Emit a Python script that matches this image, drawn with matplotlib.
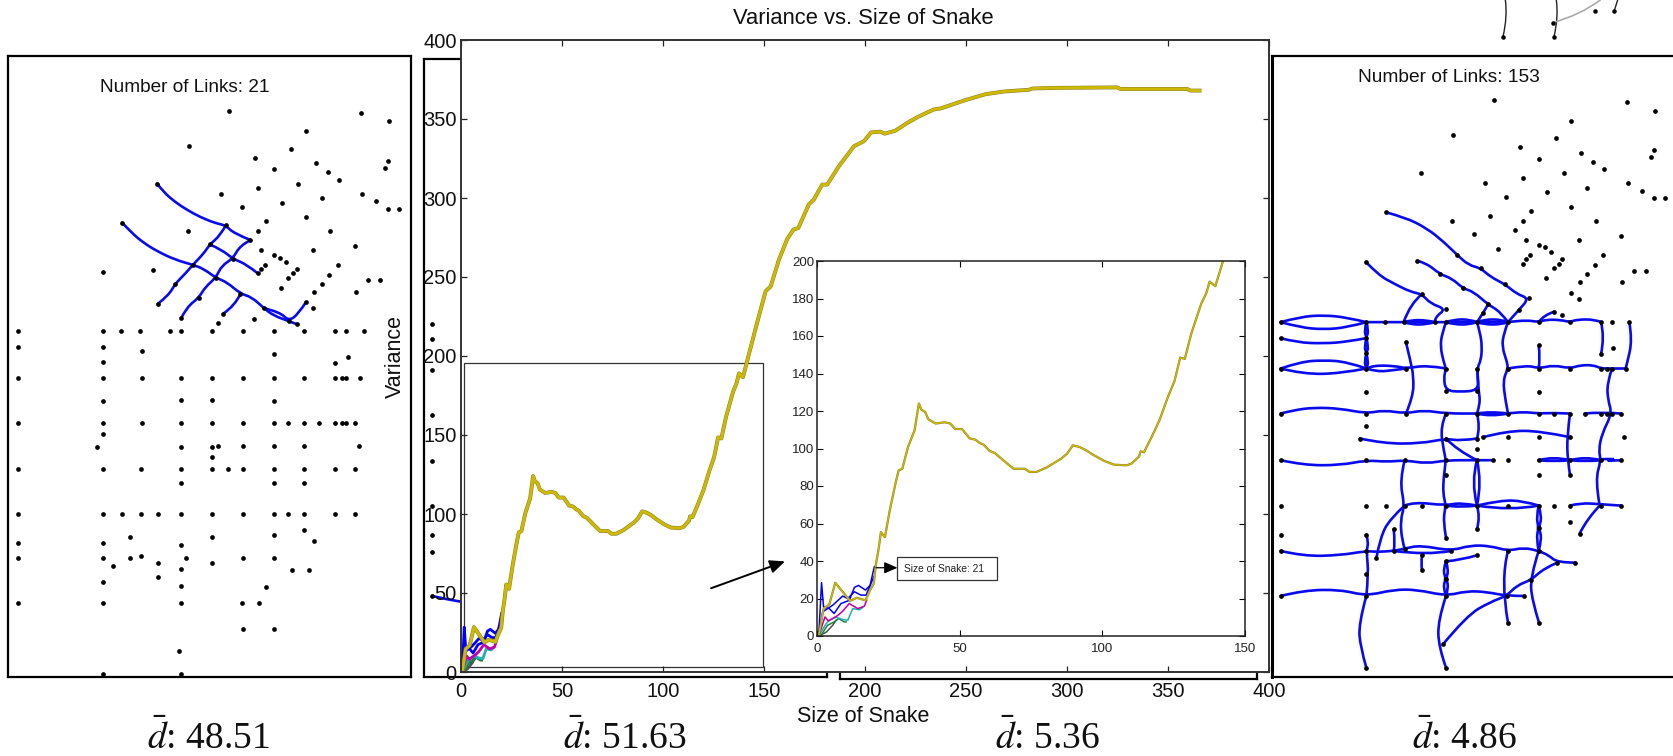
import numpy as np
import matplotlib
matplotlib.use("Agg")
import matplotlib.pyplot as plt
from matplotlib.patches import PathPatch, Rectangle
from matplotlib.path import Path

W, H = 1673, 756
plt.rcParams["font.family"] = ["Liberation Sans", "DejaVu Sans"]
plt.rcParams["mathtext.fontset"] = "stix"

# %%
# curves, x = size of snake, y = variance
main_x = [0.6, 2.3, 4.3, 6.4, 9, 11.6, 13.9, 17, 18.6, 19.9, 20.7, 21.6, 22.4, 23.8, 25.5, 27.6, 28.6, 29.9,
          31.9, 34.2, 35.7, 36.6, 37.9, 39, 41.6, 44.7, 46.7, 48.4, 50.8, 53.5, 55.5, 57, 58.4, 60.5, 62.3,
          66.4, 68.9, 72.8, 74.5, 76.9, 80.4, 85.6, 87.6, 89.7, 92, 94.4, 96.7, 100.8, 104, 108.4, 110.2,
          112.9, 113.4, 114.6, 117.4, 120, 123, 125.3, 127.3, 128.9, 131.2, 134.7, 136.4, 137.6, 139.6,
          140.8, 142.3, 147.5, 150.8, 153.3, 157.4, 161.5, 164.5, 167, 172.2, 174.7, 178.8, 181.3, 187,
          194.5, 199.5, 203, 207.7, 209.8, 215, 220.8, 226.6, 234, 237.5, 249.8, 259.7, 268.8, 281.2, 282.8,
          295.2, 324.9, 326.5, 359.5, 361, 365.6]
main_y = [0, 14.6, 16.8, 28.4, 23.6, 18.75, 20.4, 19, 24.5, 28, 38.7, 46.5, 55.4, 52.7, 67, 82, 88.3, 89.2,
          100.8, 109.7, 124, 120.7, 119.5, 115.6, 113.3, 114, 113.3, 110.4, 110.4, 105.4, 104.7, 103, 102,
          98.7, 97.6, 92.3, 89.2, 89.2, 87.5, 87.5, 89.8, 94.6, 97.2, 101.7, 100.8, 99, 96.7, 93.3, 91.4, 91,
          91.9, 95.8, 98.5, 98, 106.5, 115, 127.5, 136, 148.5, 147.8, 161.4, 177.4, 182.7, 189, 186.6,
          192.5, 200, 225.4, 241, 244, 261, 274, 280, 281, 296, 299, 308.5, 308.5, 320, 332.7, 336, 341.5,
          342, 340.7, 342.6, 347.4, 351.6, 356, 356.7, 362, 365.7, 367.4, 368.5, 369.3, 369.7, 370, 369, 369,
          368, 368]
blue1_x = [0.6, 1.6, 2.3, 4.3, 6, 8.4, 11.3, 13.1, 14.5, 17, 18.6, 20.1]
blue1_y = [0, 28.4, 15.5, 14.6, 12, 17.3, 19, 25.9, 27, 24.5, 27, 37]
blue2_x = [0.6, 2, 5.5, 9, 10.8, 13.1, 15.4, 17.2, 19.9]
blue2_y = [0, 12.9, 16.4, 21.3, 20, 23.6, 21.8, 21.8, 31.6]
magenta_x = [0.6, 2.8, 4, 7.3, 9, 11.3, 14.3, 16.6, 17.4]
magenta_y = [0, 10.2, 8, 11, 13.2, 17.3, 14.6, 15.9, 19.1]
teal_x = [0.6, 3.2, 4.3, 6.7, 9, 10.8, 12.5, 14.9, 16]
teal_y = [0, 6.6, 8.4, 10, 8.8, 8.4, 14.6, 14, 15.2]
green_x = [1.4, 3.7, 6, 7.6, 9.6, 10.2]
green_y = [0.4, 5.7, 7.5, 9.3, 7.5, 7.5]
gray_x = [0.6, 3.2, 5.5, 6.7]
gray_y = [0, 2, 5.7, 8.4]

main_ticks_x = [0, 50, 100, 150, 200, 250, 300, 350, 400]
main_ticks_y = [0, 50, 100, 150, 200, 250, 300, 350, 400]
inset_ticks_x = [0, 50, 100, 150]
inset_ticks_y = [0, 20, 40, 60, 80, 100, 120, 140, 160, 180, 200]

# %%
# left network, coordinates of the scan
left_dots_top = [(687, 213), (1083, 218), (1168, 243), (917, 273), (566, 317), (872, 326), (765, 352), (1164, 361),
                 (1154, 382), (821, 387), (947, 369), (983, 396), (1016, 418), (894, 430), (471, 430), (773, 443),
                 (662, 460), (1087, 460), (965, 474), (847, 487), (1127, 482), (725, 499), (1164, 505), (1197, 505),
                 (917, 529), (798, 543), (366, 547), (677, 555), (562, 573), (773, 573), (990, 573), (751, 599),
                 (629, 612), (1064, 617), (783, 630), (939, 630), (821, 643), (839, 652), (857, 664), (698, 655),
                 (578, 673), (1013, 673), (794, 673), (783, 687), (890, 686), (880, 698), (773, 699), (987, 703),
                 (458, 690), (307, 695), (865, 712), (647, 712), (1105, 720), (1139, 720), (965, 730), (525, 730),
                 (843, 742), (943, 755), (1068, 755), (721, 760), (596, 772), (917, 786), (473, 790), (939, 803),
                 (791, 803), (669, 820), (543, 833), (761, 837), (866, 842), (654, 847), (890, 851),
                 (52, 873), (307, 873), (362, 873), (418, 873), (510, 873), (543, 873), (636, 873), (728, 873),
                 (821, 873), (913, 873), (1005, 873), (1039, 873), (1091, 873),
                 (52, 920), (307, 919), (425, 933), (821, 942), (1043, 951), (1005, 967), (307, 964),
                 (52, 1012), (307, 1012), (425, 1012), (543, 1012), (636, 1012), (728, 1012), (821, 1012), (913, 1012),
                 (1005, 1012), (1025, 1012), (1039, 1012), (1080, 1012)]
left_dots_low = [(307, 60), (543, 57), (636, 57), (821, 60),
                 (52, 126), (307, 126), (425, 126), (543, 126), (636, 126), (728, 126), (821, 126), (865, 126),
                 (913, 126), (957, 126), (1005, 126), (1025, 126), (1039, 126), (1064, 126),
                 (307, 160), (289, 199), (543, 199), (636, 199), (654, 195), (728, 195), (821, 195), (913, 195),
                 (1076, 195), (636, 230),
                 (52, 265), (307, 265), (422, 265), (543, 265), (636, 265), (683, 265), (728, 265), (821, 265),
                 (913, 265), (1005, 265), (1064, 265), (543, 308), (821, 308), (913, 308),
                 (52, 399), (307, 399), (366, 399), (422, 399), (473, 399), (543, 399), (636, 399), (728, 399),
                 (821, 399), (865, 399), (913, 399), (1005, 399), (1064, 399),
                 (913, 447), (389, 468), (636, 468), (821, 464), (943, 481), (52, 486), (307, 486), (543, 494),
                 (52, 533), (307, 533), (389, 533), (422, 525), (558, 533), (728, 533), (821, 533),
                 (337, 555), (473, 547), (636, 547), (543, 564), (876, 568), (928, 568), (473, 590), (307, 603),
                 (543, 616), (798, 620), (52, 667), (307, 667), (543, 667), (725, 667), (776, 667),
                 (728, 745), (821, 745), (537, 811), (307, 880), (543, 880)]
left_links = [
    [(471, 430), (490, 455), (525, 485), (560, 508), (600, 530), (645, 548), (677, 555), (700, 578), (751, 599)],
    [(366, 547), (395, 578), (430, 607), (470, 632), (525, 658), (578, 673), (610, 685), (647, 712), (680, 725),
     (721, 760), (755, 770), (791, 803), (820, 825), (866, 842), (890, 851)],
    [(677, 555), (660, 585), (629, 612), (610, 640), (578, 673), (555, 700), (525, 730), (505, 765), (473, 790)],
    [(751, 599), (720, 615), (698, 655), (665, 675), (647, 712), (615, 740), (596, 772), (560, 800), (543, 833)],
    [(629, 612), (665, 628), (698, 655), (740, 672), (773, 699)],
    [(721, 760), (705, 795), (669, 820)],
    [(917, 786), (895, 820), (866, 842), (840, 815), (791, 803)],
]

# second network, only a strip shows next to the chart
strip_dots_top = [(1297, 851), (1297, 898), (1297, 990)]
strip_dots_low = [(1297, 105), (1297, 243), (1297, 378), (1297, 465), (1297, 515), (1297, 648)]
strip_link_low = [(1297, 648), (1340, 658), (1382, 665)]

# %%
# right network
right_dots_top = [(701, 301), (1100, 306), (1185, 332), (932, 363), (578, 406), (887, 414), (780, 441), (1181, 450),
                  (1171, 472), (835, 477), (962, 459), (999, 485), (1032, 507), (910, 520), (482, 520), (787, 533),
                  (675, 550), (1103, 550), (981, 564), (861, 577), (1145, 573), (738, 590), (1181, 594), (1215, 594),
                  (932, 621), (813, 633), (378, 637), (690, 647), (575, 664), (787, 664), (1007, 664), (765, 691),
                  (642, 703), (1081, 708), (798, 721), (955, 721), (835, 734), (855, 742), (873, 756), (713, 747),
                  (591, 765), (1029, 765), (809, 765), (798, 778), (906, 778), (895, 791), (787, 791), (1003, 795),
                  (661, 804), (318, 787), (471, 782), (881, 804), (1122, 813), (1156, 813), (981, 822), (538, 822),
                  (858, 835), (959, 847), (1085, 847), (735, 853), (608, 865), (932, 878), (485, 882), (955, 896),
                  (806, 895), (683, 913), (557, 927), (776, 931), (881, 935), (668, 940), (906, 944),
                  (61, 966), (318, 966), (374, 966), (430, 966), (523, 966), (557, 966), (650, 966), (743, 966),
                  (835, 966), (929, 966), (1022, 966), (1055, 966), (1107, 966),
                  (61, 1014), (318, 1014), (437, 1027), (835, 1036), (1059, 1045), (1022, 1062), (318, 1060)]
right_dots_low = [(61, 25), (318, 25), (437, 25), (557, 25), (650, 25), (743, 25), (835, 25), (929, 25), (1022, 25),
                  (1040, 25), (1055, 25), (1096, 25), (318, 96), (557, 91), (650, 91), (835, 96),
                  (61, 160), (318, 160), (437, 160), (557, 160), (650, 160), (743, 160), (835, 160), (880, 160),
                  (929, 160), (973, 160), (1022, 160), (1040, 160), (1055, 160), (1081, 160),
                  (318, 196), (299, 235), (557, 235), (650, 235), (668, 231), (743, 231), (835, 231), (929, 231),
                  (1092, 231), (650, 266),
                  (61, 300), (318, 300), (433, 300), (557, 300), (650, 300), (698, 300), (743, 300), (835, 300),
                  (929, 300), (1022, 300), (1081, 300), (557, 344), (835, 344), (929, 344),
                  (61, 436), (318, 436), (378, 436), (433, 436), (485, 436), (557, 436), (650, 436), (743, 436),
                  (835, 436), (880, 436), (929, 436), (1022, 436), (1081, 436),
                  (929, 485), (400, 507), (650, 507), (835, 502), (958, 520), (61, 524), (318, 524), (557, 532),
                  (61, 572), (318, 572), (400, 572), (433, 565), (572, 572), (743, 572), (835, 572),
                  (348, 594), (485, 585), (650, 585), (891, 607), (944, 607), (485, 629), (318, 642), (557, 603),
                  (557, 655), (813, 659), (61, 707), (318, 707), (557, 707), (739, 707), (791, 707),
                  (743, 787), (836, 787), (548, 852), (318, 922), (557, 922)]
right_links_top = [
    [(378, 637), (435, 652), (500, 685), (550, 725), (591, 765), (625, 795), (661, 804), (690, 830), (735, 853),
     (770, 882), (806, 895), (775, 930), (743, 966)],
    [(318, 787), (355, 825), (400, 850), (450, 875), (485, 882), (510, 910), (557, 927), (525, 950), (523, 966)],
    [(485, 882), (450, 910), (430, 966)],
    [(471, 782), (500, 790), (538, 822), (575, 835), (608, 865), (640, 875), (683, 913), (720, 935), (743, 966)],
    [(683, 913), (668, 940), (650, 966)],
    [(318, 966), (374, 966), (430, 966), (523, 966), (557, 966), (650, 966), (743, 966), (800, 960), (835, 966),
     (860, 958), (905, 960), (929, 966), (950, 958), (1005, 958), (1022, 966)],
    [(61, 966), (120, 950), (190, 945), (260, 952), (318, 966)],
    [(61, 966), (120, 982), (190, 988), (260, 982), (318, 966)],
    [(430, 966), (450, 960), (500, 960), (523, 966)],
    [(430, 966), (450, 973), (500, 973), (523, 966)],
    [(557, 966), (580, 958), (630, 958), (650, 966)],
    [(557, 966), (580, 973), (630, 973), (650, 966)],
    [(650, 966), (670, 958), (725, 958), (743, 966)],
    [(650, 966), (670, 973), (725, 973), (743, 966)],
    [(835, 966), (850, 945), (881, 935)],
    [(61, 1014), (110, 1027), (190, 1030), (260, 1025), (318, 1014)],
    [(318, 966), (312, 990), (318, 1014), (325, 990), (318, 966)],
    [(318, 1014), (312, 1040), (318, 1060), (325, 1040), (318, 1014)],
    [(318, 1060), (312, 1085), (318, 1105), (325, 1085), (318, 1060)],
    [(437, 1027), (450, 1080), (460, 1130), (458, 1190), (437, 1240)],
    [(557, 966), (545, 1000), (540, 1040), (550, 1085), (557, 1105), (550, 1135), (557, 1171), (600, 1175), (650, 1171),
     (655, 1140), (650, 1105)],
    [(650, 966), (660, 1000), (665, 1040), (662, 1080), (650, 1105), (655, 1171), (660, 1210), (650, 1240)],
    [(743, 966), (730, 1000), (725, 1040), (740, 1085), (743, 1105), (728, 1140), (735, 1200), (743, 1240)],
    [(835, 1036), (840, 1070), (835, 1105)],
    [(1022, 966), (1033, 1010), (1022, 1062)],
    [(1107, 966), (1116, 1020), (1100, 1090), (1096, 1105)],
]
right_links_low = [
    [(318, 25), (340, 15), (410, 18), (437, 25), (500, 15), (557, 25)],
    [(318, 25), (350, 35), (400, 30), (437, 25)],
    [(743, 25), (800, 15), (835, 25), (880, 15), (929, 25), (960, 15), (1000, 15), (1022, 25), (1055, 25), (1096, 25)],
    [(61, 25), (120, 5), (190, 0), (260, 5), (318, 25)],
    [(61, 25), (130, 42), (240, 40), (318, 25)],
    [(1055, 25), (1040, 70), (1043, 120), (1055, 160), (1025, 220), (1015, 270), (1022, 300), (1005, 360), (1017, 430)],
    [(61, 160), (100, 150), (160, 142), (240, 145), (318, 160), (370, 150), (437, 160), (490, 150), (557, 160),
     (650, 160), (743, 160), (790, 155), (835, 160), (880, 158), (929, 160)],
    [(973, 160), (1022, 155), (1081, 160)],
    [(650, 160), (690, 153), (743, 160)],
    [(650, 160), (690, 170), (743, 160)],
    [(299, 235), (370, 250), (480, 250), (557, 235), (600, 242), (650, 235)],
    [(668, 231), (740, 212), (840, 212), (929, 231)],
    [(929, 160), (920, 230), (922, 300), (929, 344)],
    [(557, 235), (590, 270), (650, 300)],
    [(557, 160), (540, 200), (550, 270), (557, 300), (550, 350), (548, 400), (557, 436), (548, 480), (557, 532)],
    [(650, 160), (660, 200), (650, 235)],
    [(61, 300), (130, 315), (240, 315), (318, 300), (380, 305), (433, 300), (500, 310), (557, 300), (650, 300), (698, 300)],
    [(433, 300), (418, 360), (433, 436), (420, 480), (425, 540), (433, 565)],
    [(650, 300), (632, 365), (650, 436)],
    [(650, 300), (665, 365), (650, 436)],
    [(835, 300), (880, 288), (929, 300)],
    [(835, 300), (880, 305), (929, 300)],
    [(929, 300), (975, 288), (1022, 300)],
    [(929, 300), (975, 305), (1022, 300)],
    [(1022, 297), (1081, 295), (1022, 303), (1081, 300)],
    [(433, 436), (460, 425), (557, 436), (600, 427), (650, 436)],
    [(557, 436), (600, 442), (650, 436)],
    [(650, 436), (720, 420), (790, 422), (835, 436)],
    [(650, 436), (750, 452), (835, 436)],
    [(929, 436), (960, 428), (1022, 432), (1081, 436)],
    [(1022, 432), (980, 475), (958, 520)],
    [(650, 436), (660, 470), (650, 507)],
    [(835, 436), (828, 470), (835, 502), (828, 535), (835, 572)],
    [(835, 436), (845, 470), (835, 502), (845, 535), (835, 572)],
    [(433, 436), (390, 475), (360, 530), (348, 594)],
    [(400, 507), (405, 550), (400, 572)],
    [(318, 524), (325, 545), (318, 572), (325, 640), (318, 707)],
    [(61, 572), (130, 588), (240, 585), (318, 572), (348, 575), (400, 572), (433, 565), (480, 555), (572, 572),
     (630, 555), (690, 557), (743, 572), (790, 562), (835, 572), (865, 585), (891, 607), (944, 607)],
    [(400, 572), (500, 585), (572, 572)],
    [(485, 585), (482, 610), (485, 629)],
    [(557, 603), (600, 600), (650, 585)],
    [(557, 603), (548, 630), (557, 655), (548, 680), (557, 707)],
    [(557, 603), (565, 630), (557, 655), (565, 680), (557, 707)],
    [(743, 572), (720, 660), (743, 787)],
    [(835, 572), (810, 650), (815, 720), (836, 787)],
    [(61, 707), (130, 690), (240, 688), (318, 707), (400, 688), (470, 688), (557, 707), (620, 692), (680, 695),
     (739, 707), (791, 707)],
    [(891, 607), (850, 625), (813, 659), (770, 675), (739, 707), (690, 725), (620, 765), (548, 852)],
    [(318, 707), (295, 790), (300, 860), (318, 922)],
    [(557, 707), (533, 780), (535, 860), (557, 922)],
]
# bit of another figure that pokes in above the right panel
scrap_dots = [(728, 110), (881, 110), (877, 68), (1004, 32), (1062, 32)]
scrap_black = [[(728, 110), (742, 50), (735, 0)], [(881, 110), (895, 50), (888, 0)], [(1062, 32), (1072, 0)]]
scrap_gray = [[(877, 68), (960, 45), (1020, 0)]]

d_labels = ["48.51", "51.63", "5.36", "4.86"]


# %%
def box(x0, y0, x1, y1, **kw):
    # axes from pixel bounds of the picture
    return fig.add_axes([x0 / W, 1 - y1 / H, (x1 - x0) / W, (y1 - y0) / H], **kw)


def curve(ax, a, **kw):
    # hand drawn look, the points act as control points of a quadratic path
    a = np.asarray(a, dtype=float)
    if len(a) == 2:
        verts, codes = list(a), [Path.MOVETO, Path.LINETO]
    else:
        verts, codes = [a[0]], [Path.MOVETO]
        for i in range(1, len(a) - 1):
            end = a[i + 1] if i == len(a) - 2 else (a[i] + a[i + 1]) / 2
            verts += [a[i], end]
            codes += [Path.CURVE3, Path.CURVE3]
    ax.add_patch(PathPatch(Path(verts, codes), fill=False, capstyle="round", **kw))


def network(ax, top, low, links_top, links_low, shift):
    pts = np.array(top + [(x, y + shift) for x, y in low])
    for ln in links_top:
        curve(ax, ln, ec="#0a0aee", lw=1.9)
    for ln in links_low:
        curve(ax, [(x, y + shift) for x, y in ln], ec="#0a0aee", lw=1.9)
    ax.plot(pts[:, 0], pts[:, 1], ".", color="black", ms=6.8, mew=0)


def plain(ax, lw=1.6):
    ax.set_xticks([])
    ax.set_yticks([])
    for s in ax.spines.values():
        s.set_linewidth(lw)


fig = plt.figure(figsize=(W / 100, H / 100), dpi=100)

# left panel
ax1 = box(8, 56, 411, 677, zorder=1)
ax1.set_xlim(23, 1233)
ax1.set_ylim(1909, 47)
network(ax1, left_dots_top, left_dots_low, left_links, [], 1020)
plain(ax1)
fig.text(100 / W, 1 - 88 / H, "Number of Links: 21", fontsize=13.7, va="center", color="#111111")

# second panel, mostly behind the chart
ax2 = box(424, 59, 827, 677, zorder=1)
ax2.set_xlim(1272, 2481)
ax2.set_ylim(1911, 57)
network(ax2, strip_dots_top, strip_dots_low, [], [strip_link_low], 1020)
plain(ax2)

# third panel, only its bottom edge shows
ax3 = box(840, 100, 1257, 679, zorder=1)
plain(ax3)

# right panel
ax4 = box(1272, 56, 1680, 677, zorder=1)
ax4.set_xlim(35, 1259)
ax4.set_ylim(2030, 168)
network(ax4, right_dots_top, right_dots_low, right_links_top, right_links_low, 1080)
plain(ax4)
ax4.spines["left"].set_linewidth(2.2)
for ln in scrap_black:
    curve(ax4, ln, ec="#222222", lw=1, clip_on=False)
for ln in scrap_gray:
    curve(ax4, ln, ec="#aaaaaa", lw=1.2, clip_on=False)
a = np.array(scrap_dots)
ax4.plot(a[:, 0], a[:, 1], ".", color="black", ms=6.5, mew=0, clip_on=False)
fig.text(1358 / W, 1 - 78 / H, "Number of Links: 153", fontsize=13.8, va="center", color="#111111")

# main chart
ax = box(461, 40, 1269, 672, zorder=2)
small = [(blue1_x, blue1_y, "#0000ff"), (blue2_x, blue2_y, "#0000ff"), (gray_x, gray_y, "#505050"),
         (green_x, green_y, "#208040"), (teal_x, teal_y, "#20b0b0"), (magenta_x, magenta_y, "#c000a8")]
for x, y, c in small:
    ax.plot(x, y, color=c, lw=2)
ax.plot(main_x, main_y, color="#8a7f30", lw=2.8)
ax.plot(main_x, main_y, color="#cdb900", lw=2.1)
ax.set_xlim(0, 400)
ax.set_ylim(0, 400)
ax.set_xticks(main_ticks_x)
ax.set_yticks(main_ticks_y)
ax.tick_params(direction="in", length=4, width=0.9, top=True, right=True, labelsize=14.5, pad=3, color="#222222",
               labelcolor="#111111")
ax.tick_params(axis="x", pad=7)
for s in ax.spines.values():
    s.set_linewidth(1.4)
    s.set_color("#333333")
ax.add_patch(Rectangle((1.5, 3.2), 148, 192.4, fill=False, ec="#333333", lw=0.9))
ax.annotate("", xy=(160.4, 70), xytext=(123.8, 53),
            arrowprops=dict(arrowstyle="-|>,head_length=0.9,head_width=0.4", color="black", lw=1.4, shrinkA=0, shrinkB=0))
fig.text(863 / W, 1 - 19 / H, "Variance vs. Size of Snake", fontsize=15.8, ha="center", va="center", color="#111111")
fig.text(863 / W, 1 - 717 / H, "Size of Snake", fontsize=15.5, ha="center", va="center", color="#111111")
fig.text(395 / W, 1 - 357 / H, "Variance", fontsize=15.5, rotation=90, ha="center", va="center", color="#111111",
         zorder=5)

# inset
axi = box(817, 261, 1245, 636, zorder=3)
for x, y, c in small:
    axi.plot(x, y, color=c, lw=1.1)
axi.plot(main_x, main_y, color="#8a7f30", lw=1.6)
axi.plot(main_x, main_y, color="#cdb900", lw=1)
axi.set_xlim(0, 150)
axi.set_ylim(0, 200)
axi.set_xticks(inset_ticks_x)
axi.set_yticks(inset_ticks_y)
axi.tick_params(direction="in", length=4, width=0.8, top=True, right=True, labelsize=9.5, pad=2, labelcolor="#222222")
axi.tick_params(axis="x", pad=5)
for s in axi.spines.values():
    s.set_linewidth(1.1)
    s.set_color("#222222")
axi.add_patch(Rectangle((28.2, 29.8), 35, 12.2, fc="white", ec="#333333", lw=0.9, zorder=4))
axi.text(30.4, 36, "Size of Snake: 21", fontsize=7.4, va="center", color="#222222", zorder=5)
axi.annotate("", xy=(28.2, 36.4), xytext=(20.7, 36.4),
             arrowprops=dict(arrowstyle="-|>,head_length=0.8,head_width=0.35", color="black", lw=0.9, shrinkA=0, shrinkB=0))

# bottom captions
for lab, x0 in zip(d_labels, [147, 563, 995, 1412]):
    fig.text(x0 / W, 1 - 738 / H, r"$\bar{d}$: " + lab, family="Liberation Serif", fontsize=27, va="center",
             color="#111111")

fig.savefig("out.png", dpi=100)
